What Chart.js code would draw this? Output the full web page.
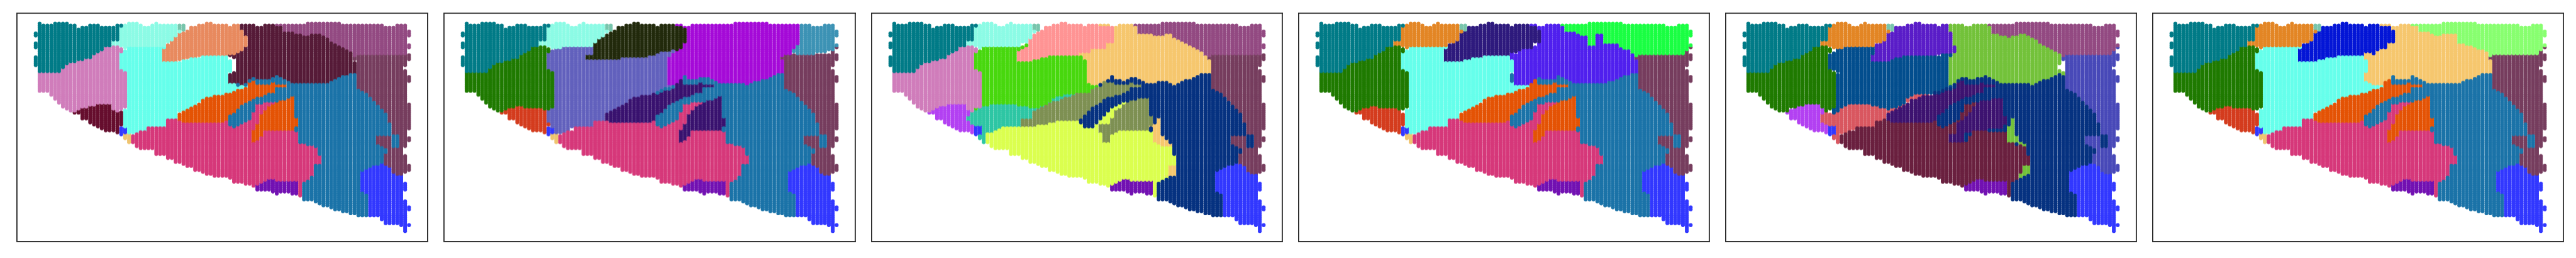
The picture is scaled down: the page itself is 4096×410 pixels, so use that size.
<!DOCTYPE html>
<html><head><meta charset="utf-8">
<script src="https://cdn.jsdelivr.net/npm/chart.js@4"></script>
<style>html,body{margin:0;padding:0;background:#fff;width:4096px;height:410px;overflow:hidden}
.p{position:absolute}</style></head><body>
<script>
// ---- spot lattice occupied by the tissue: first and last row of every column
const colTop=[null,0,1,1,1,0,0,0,0,1,1,3,2,2,1,1,1,2,2,2,2,1,1,1,0,0,0,1,2,2,1,0,1,1,1,1,1,1,1,2,2,2,1,1,0,0,1,1,1,1,2,1,1,1,1,1,1,2,2,1,1,1,1,1,1,1,1,1,1,1,0,0,0,0,0,0,0,0,0,1,1,1,1,1,1,1,1,1,1,1,2,2,2,1,1,1];
const colBottom=[null,34,34,34,36,38,40,42,43,44,45,45,48,48,50,51,52,53,54,54,54,55,56,58,60,60,62,63,63,63,63,66,66,66,68,68,70,70,71,72,72,74,74,75,76,76,77,77,77,77,78,80,80,80,81,81,82,84,84,84,84,85,86,85,85,85,86,86,87,89,89,89,90,91,92,92,93,94,94,95,95,96,96,97,97,97,97,97,97,99,101,101,101,101,102,105];
const firstColumnRuns=[[5,6],[10,12],[17,21]];
const lastColumnRuns=[[4,6],[11,12],[16,18],[27,29],[41,53],[58,59],[72,74],[93,94],[102,102]];
const column95Gaps=[[22,23],[63,66],[76,80],[85,89]];

// ---- cluster colours
const C={teal:'#017B87',aqua:'#8CFBE5',pink:'#D07DBB',cyan:'#66FFEB',salmon:'#E88A5F',plum:'#934A82',maroon:'#561B38',mauve:'#763D5E',blue:'#1B73A8',orange:'#E45305',magenta:'#D6387A',dred:'#660E2E',purple:'#7211B2',bblue:'#3238FF',gold:'#EFC46F',sage:'#78C5AC',green:'#1F7A00',red:'#D43C1E',peri:'#6261BD',olive:'#222A0C',violet:'#A50AD8',steel:'#3D93B5',indigo:'#39126F',lime:'#48D80E',rose:'#FF9494',amber:'#F6C76E',navy:'#063280',moss:'#7E9053',yellow:'#DBFF4F',sea:'#2EC6A4',lilac:'#B341F2',tang:'#E38625',deep:'#2E1A7D',vio2:'#5020EE',neon:'#1AFF43',ink:'#034E8E',vio3:'#5A1DC8',leaf:'#73C23A',wine:'#6A203F',coral:'#D95760',peri2:'#4849B8',royal:'#0416D6',mint:'#88FF70',indigo2:'#3D1370'};

// ---- cluster outlines (x: 14.19 per column, y: 124 + 10.32 per row)
const TEAL=[[-30,100],[316,100],[316,135],[303,135],[303,215],[273,215],[273,243],[258,243],[218,280],[203,300],[148,320],[108,340],[93,372],[8,372],[-30,360]];
const AQ=[[303,135],[316,135],[316,100],[553,100],[553,150],[538,165],[513,180],[513,215],[483,225],[468,240],[328,250],[318,243],[273,243],[273,215],[303,215]];
const SAGE=[[511,100],[541,100],[541,156],[511,156]];
const LEFTMID=[[-40,360],[8,372],[93,372],[108,340],[148,320],[203,300],[218,280],[258,243],[318,250],[328,255],[301,285],[301,355],[343,385],[330,400],[330,560],[313,575],[303,585],[288,575],[278,562],[228,562],[208,550],[173,565],[148,585],[-40,585]];
const RED=[[133,585],[173,565],[208,550],[228,562],[283,562],[313,590],[316,640],[328,640],[328,660],[300,660],[300,720],[133,720]];
const BSPOT=[[302,660],[330,668],[330,695],[316,715],[302,715]];
const GSPOT=[[316,695],[345,695],[345,750],[316,750]];
const CYAN=[[330,245],[468,240],[483,228],[470,250],[456,285],[456,322],[533,322],[558,310],[608,298],[698,298],[710,312],[723,345],[708,385],[708,425],[728,445],[770,448],[763,465],[698,490],[613,518],[578,555],[513,595],[513,628],[470,628],[470,668],[453,662],[403,662],[398,685],[343,700],[330,695],[316,655],[316,580],[330,565],[330,400],[343,385],[301,355],[301,285],[330,255]];
const UPPER46=[[553,100],[793,100],[805,138],[821,165],[821,215],[793,225],[793,255],[768,250],[738,280],[698,275],[698,298],[608,298],[558,310],[533,322],[456,322],[456,285],[470,250],[483,228],[513,215],[513,180],[538,165],[553,150]];
const AMBER6=[[766,100],[878,100],[878,135],[906,145],[906,175],[948,175],[968,200],[1003,175],[1045,185],[1045,235],[1088,240],[1148,275],[1158,295],[1186,295],[1173,320],[1173,385],[1133,388],[1098,410],[1043,445],[1018,435],[933,435],[883,400],[863,415],[823,420],[808,400],[788,420],[768,448],[728,445],[708,425],[708,385],[723,345],[710,312],[698,298],[698,275],[738,280],[768,250],[793,255],[793,225],[821,215],[821,165],[808,165],[805,140],[766,138]];
const MINT6=[[878,100],[1420,100],[1420,282],[1188,282],[1158,295],[1148,275],[1088,240],[1045,235],[1045,185],[1003,175],[968,200],[948,175],[906,175],[906,145],[878,135]];
const MAUVE=[[1173,320],[1173,465],[1198,480],[1233,530],[1243,545],[1283,600],[1283,645],[1298,650],[1298,705],[1243,705],[1243,750],[1270,770],[1283,790],[1273,810],[1273,850],[1283,870],[1298,870],[1298,900],[1318,915],[1343,905],[1420,905],[1420,282],[1188,282],[1158,295],[1155,320]];
const MAUVETOP=[[1335,260],[1362,260],[1362,240],[1420,240],[1420,282],[1335,282]];
const PATCH=[[1298,712],[1328,712],[1328,765],[1298,765]];
const BASE=[[690,385],[1420,385],[1420,1240],[690,1240]];
const MAGENTA=[[356,700],[398,685],[403,662],[453,662],[470,668],[470,628],[513,628],[513,635],[668,635],[698,625],[713,665],[738,660],[778,630],[808,545],[863,525],[878,540],[823,590],[808,650],[783,690],[783,745],[808,735],[833,690],[893,690],[960,680],[960,745],[1033,770],[1018,790],[1045,825],[1045,855],[1018,865],[1018,920],[988,945],[968,970],[968,1100],[308,1100],[308,800]];
const BAND1=[[513,630],[513,595],[553,575],[598,540],[613,518],[698,490],[763,465],[783,420],[793,420],[813,445],[868,432],[918,445],[918,460],[863,460],[876,480],[798,520],[748,560],[708,610],[693,640],[678,650],[558,645],[513,637]];
const BAND2=[[783,745],[783,690],[808,650],[823,590],[868,535],[948,500],[948,622],[960,606],[948,680],[893,690],[833,690],[813,735],[793,745]];
const BBLUE=[[1188,890],[1243,860],[1263,852],[1283,870],[1298,870],[1298,900],[1318,915],[1343,905],[1420,905],[1420,1240],[1203,1240],[1203,1130],[1216,1130],[1216,1018],[1188,1005]];
const PURPLE=[[808,965],[833,950],[853,930],[868,940],[964,940],[964,1022],[900,1030],[808,1000]];
// panel 1
const SALMON1=[[555,100],[753,100],[751,160],[765,165],[769,245],[748,265],[722,282],[696,280],[696,298],[597,298],[545,310],[519,322],[457,322],[457,280],[472,240],[498,210],[514,180],[555,160]];
const MAROON1=[[751,100],[876,100],[876,135],[904,145],[904,175],[945,175],[992,195],[1008,178],[1044,185],[1086,225],[1117,250],[1148,275],[1169,296],[1159,320],[1171,340],[1171,388],[1143,388],[1107,410],[1044,445],[1018,435],[930,435],[883,400],[841,422],[821,420],[789,405],[779,420],[763,445],[709,440],[709,385],[724,380],[724,300],[696,298],[696,280],[722,282],[748,265],[769,245],[765,165],[751,160]];
const PLUM1=[[876,100],[1420,100],[1420,282],[1188,282],[1169,296],[1148,275],[1117,250],[1086,225],[1044,185],[1008,178],[992,195],[945,175],[904,175],[904,145],[876,135]];
const DRED1=[[134,585],[176,565],[233,540],[269,540],[280,570],[316,590],[316,635],[332,640],[327,655],[301,660],[301,720],[134,720]];
// panel 2
const PERI2=[[329,250],[469,240],[469,285],[454,320],[539,320],[589,305],[689,298],[709,280],[769,265],[749,300],[739,320],[751,400],[739,440],[759,450],[699,490],[619,515],[579,560],[514,600],[514,630],[469,630],[469,670],[399,662],[394,685],[344,700],[329,695],[314,650],[301,580],[329,560],[329,400],[344,385],[301,355],[301,285],[329,265]];
const OLIVE2=[[554,140],[599,125],[639,100],[769,100],[769,140],[807,145],[821,170],[821,215],[799,220],[794,255],[769,265],[709,280],[689,298],[589,305],[539,320],[454,320],[454,285],[469,285],[469,235],[489,215],[514,185],[554,155]];
const VIOLET2=[[764,100],[1229,100],[1229,230],[1214,235],[1214,270],[1189,285],[1174,320],[1174,385],[1139,390],[1104,415],[1034,445],[1014,435],[924,435],[884,400],[854,420],[819,420],[809,400],[789,425],[774,450],[739,445],[751,400],[739,320],[749,300],[769,265],[794,255],[799,220],[821,215],[821,170],[807,145],[769,140]];
const STEEL2=[[1229,100],[1420,100],[1420,240],[1344,262],[1279,282],[1214,280],[1201,270],[1214,235],[1229,230]];
// panel 3
const VIOLA3=[[135,590],[175,560],[205,545],[270,540],[285,578],[300,585],[275,610],[305,640],[305,660],[300,705],[135,720]];
const LIME3=[[330,245],[470,240],[500,235],[485,255],[457,285],[457,320],[515,322],[585,298],[695,298],[710,315],[723,350],[710,385],[710,430],[725,445],[765,448],[720,490],[645,490],[585,510],[580,550],[525,565],[455,545],[405,540],[355,548],[330,575],[300,590],[305,570],[330,560],[330,400],[343,385],[303,355],[303,285],[330,265]];
const SEA3=[[330,560],[355,548],[405,540],[455,545],[525,565],[580,550],[585,510],[645,490],[685,490],[605,530],[525,580],[510,628],[470,630],[470,670],[400,662],[395,685],[345,705],[345,750],[315,750],[315,705],[300,690],[303,660],[275,620],[290,585]];
const BSPOT3=[[303,660],[330,660],[330,705],[303,705]];
const ROSE3=[[555,100],[765,100],[765,140],[820,140],[820,215],[795,225],[790,255],[745,250],[720,275],[695,275],[695,298],[585,298],[515,322],[457,320],[470,260],[500,235],[500,210],[525,180],[555,155]];
const AMBER3=[[765,100],[880,100],[880,125],[905,145],[905,175],[955,185],[975,198],[1010,175],[1050,210],[1085,240],[1125,265],[1155,295],[1187,292],[1173,320],[1173,385],[1135,388],[1105,410],[1035,445],[1015,432],[925,435],[885,400],[860,425],[825,420],[810,400],[790,420],[765,445],[725,445],[710,430],[710,385],[723,350],[710,315],[695,298],[695,275],[720,275],[745,250],[790,255],[795,225],[820,215],[820,140],[765,140]];
const PLUM3=[[880,100],[1420,100],[1420,282],[1185,282],[1155,295],[1125,265],[1085,240],[1050,210],[1010,175],[975,198],[955,185],[905,175],[905,145],[880,125]];
const YELLOW3=[[345,705],[395,685],[400,662],[470,670],[470,660],[505,665],[555,655],[615,635],[675,632],[685,625],[710,665],[735,665],[765,625],[785,600],[810,560],[870,525],[875,540],[825,570],[810,610],[795,640],[765,650],[765,690],[780,745],[795,745],[805,710],[830,690],[870,690],[950,680],[960,745],[1005,750],[1030,770],[1025,790],[1045,830],[1045,855],[1020,870],[1020,925],[985,945],[965,965],[965,1100],[285,1100],[285,800]];
const MOSS3A=[[470,660],[470,630],[510,628],[525,580],[605,530],[685,490],[765,448],[785,420],[830,445],[885,432],[920,445],[920,460],[870,460],[875,480],[785,520],[715,590],[685,640],[615,635],[555,655],[505,665]];
const MOSS3B=[[765,650],[795,640],[810,610],[825,570],[870,525],[945,505],[947,600],[960,610],[947,680],[870,690],[830,690],[805,710],[795,745],[780,745],[765,690]];
const SPUR3=[[947,655],[963,650],[975,618],[990,618],[990,705],[1005,730],[1030,755],[1030,770],[1005,770],[963,748],[963,680]];
const SPOT3=[[1020,865],[1045,865],[1045,915],[1010,935],[1005,920]];
// panel 4
const VIO4=[[768,100],[878,100],[878,125],[905,145],[905,175],[948,175],[968,195],[990,195],[990,240],[1018,240],[1018,185],[1048,185],[1048,232],[1088,232],[1118,265],[1143,265],[1155,295],[1186,282],[1173,320],[1173,385],[1143,388],[1108,410],[1033,445],[1013,435],[928,435],[883,400],[858,420],[823,420],[811,405],[793,420],[768,448],[723,445],[711,425],[711,385],[723,345],[711,320],[698,298],[698,275],[723,280],[753,250],[793,250],[798,225],[821,215],[821,165],[808,165],[808,140],[768,140]];
const NEON4=[[878,100],[1420,100],[1420,282],[1188,282],[1155,295],[1143,265],[1118,265],[1088,232],[1048,232],[1048,185],[1018,185],[1018,240],[990,240],[990,195],[968,195],[948,175],[905,175],[905,145],[878,125]];
// panel 5
const LILAC5=[[136,600],[176,565],[231,540],[273,540],[289,575],[289,600],[273,620],[301,650],[301,715],[136,720]];
const INK5=[[333,250],[471,240],[473,280],[456,285],[456,320],[531,322],[571,298],[701,298],[771,260],[761,280],[739,320],[751,400],[736,440],[766,448],[681,490],[631,490],[586,515],[581,555],[521,570],[436,540],[361,548],[346,575],[331,600],[316,600],[316,565],[333,560],[333,400],[346,385],[303,355],[303,285],[333,265]];
const CORAL5=[[276,620],[289,580],[331,600],[346,575],[361,548],[436,540],[521,570],[581,555],[586,515],[631,490],[681,490],[601,530],[526,590],[513,628],[473,635],[473,670],[401,662],[396,685],[346,705],[341,750],[316,750],[316,705],[301,660],[276,635]];
const BSPOT5=[[303,660],[331,660],[331,712],[303,712]];
const VIO5=[[556,140],[591,130],[596,100],[751,100],[751,165],[766,170],[766,245],[781,265],[751,280],[701,280],[701,298],[571,298],[531,322],[456,320],[456,285],[473,280],[473,240],[511,215],[516,180],[541,165]];
const LEAF5=[[751,100],[876,100],[876,125],[906,145],[906,175],[966,200],[1016,175],[1046,195],[1081,235],[1141,275],[1163,298],[1186,290],[1161,320],[1146,340],[1146,370],[1171,375],[1171,400],[1151,388],[1121,405],[1051,445],[1031,435],[931,435],[886,400],[826,420],[806,405],[781,420],[761,448],[739,445],[739,410],[751,400],[739,320],[761,280],[781,265],[766,245],[766,170],[751,165]];
const PLUM5=[[876,100],[1420,100],[1420,282],[1186,282],[1163,298],[1141,275],[1081,235],[1046,195],[1016,175],[966,200],[906,175],[906,145],[876,125]];
const BAND5=[[739,745],[739,705],[769,695],[769,650],[821,590],[846,530],[941,505],[946,600],[961,610],[946,680],[901,680],[806,695],[796,745]];
const SPUR5=[[963,655],[979,618],[991,618],[991,705],[1006,735],[1031,755],[1031,770],[986,750],[963,745],[963,690]];
const SPOT5=[[1021,865],[1049,865],[1049,905],[1020,925],[1003,935],[1003,920]];

// ---- which cluster takes which outline on each panel; a later entry wins where two overlap
const panel1=[['teal',TEAL],['blue',BASE],['magenta',MAGENTA],['orange',BAND1],['orange',BAND2],['pink',LEFTMID],['dred',DRED1],['aqua',AQ],['sage',SAGE],['cyan',CYAN],['salmon',SALMON1],['maroon',MAROON1],['plum',PLUM1],['mauve',MAUVE],['blue',PATCH],['bblue',BBLUE],['purple',PURPLE],['bblue',BSPOT],['gold',GSPOT]];
const panel2=[['teal',TEAL],['blue',BASE],['magenta',MAGENTA],['indigo',BAND1],['indigo',BAND2],['green',LEFTMID],['red',RED],['aqua',AQ],['sage',SAGE],['peri',PERI2],['olive',OLIVE2],['violet',VIOLET2],['steel',STEEL2],['mauve',MAUVE],['mauve',MAUVETOP],['blue',PATCH],['bblue',BBLUE],['purple',PURPLE],['bblue',BSPOT],['gold',GSPOT]];
const panel3=[['teal',TEAL],['navy',BASE],['yellow',YELLOW3],['moss',MOSS3A],['moss',MOSS3B],['pink',LEFTMID],['lilac',VIOLA3],['aqua',AQ],['sage',SAGE],['lime',LIME3],['sea',SEA3],['bblue',BSPOT3],['rose',ROSE3],['amber',AMBER3],['plum',PLUM3],['mauve',MAUVE],['navy',PATCH],['amber',SPUR3],['amber',SPOT3],['bblue',BBLUE],['purple',PURPLE]];
const panel4=[['teal',TEAL],['blue',BASE],['magenta',MAGENTA],['orange',BAND1],['orange',BAND2],['green',LEFTMID],['red',RED],['tang',AQ],['sage',SAGE],['cyan',CYAN],['deep',UPPER46],['vio2',VIO4],['neon',NEON4],['mauve',MAUVE],['mauve',MAUVETOP],['blue',PATCH],['bblue',BBLUE],['purple',PURPLE],['bblue',BSPOT],['gold',GSPOT]];
const panel5=[['teal',TEAL],['navy',BASE],['wine',MAGENTA],['indigo2',BAND1],['indigo2',BAND5],['green',LEFTMID],['lilac',LILAC5],['tang',AQ],['sage',SAGE],['ink',INK5],['coral',CORAL5],['bblue',BSPOT5],['vio3',VIO5],['leaf',LEAF5],['plum',PLUM5],['peri2',MAUVE],['peri2',MAUVETOP],['navy',PATCH],['leaf',SPUR5],['leaf',SPOT5],['bblue',BBLUE],['purple',PURPLE]];
const panel6=[['teal',TEAL],['blue',BASE],['magenta',MAGENTA],['orange',BAND1],['orange',BAND2],['green',LEFTMID],['red',RED],['tang',AQ],['sage',SAGE],['cyan',CYAN],['royal',UPPER46],['amber',AMBER6],['mint',MINT6],['mauve',MAUVE],['mauve',MAUVETOP],['blue',PATCH],['bblue',BBLUE],['purple',PURPLE],['bblue',BSPOT],['gold',GSPOT]];
const panels=[panel1,panel2,panel3,panel4,panel5,panel6];

function spots(){
  const out=[];
  firstColumnRuns.forEach(r=>{for(let k=r[0];k<=r[1];k++)out.push([0,k]);});
  for(let c=1;c<=95;c++){
    for(let k=colTop[c];k<=colBottom[c];k++){
      if(c===95&&column95Gaps.some(g=>k>=g[0]&&k<=g[1]))continue;
      out.push([c,k]);
    }
  }
  lastColumnRuns.forEach(r=>{for(let k=r[0];k<=r[1];k++)out.push([96,k]);});
  return out;
}
function inside(poly,x,y){
  let hit=false;
  for(let i=0,j=poly.length-1;i<poly.length;j=i++){
    const a=poly[i],b=poly[j];
    if((a[1]>y)!==(b[1]>y)&&x<(b[0]-a[0])*(y-a[1])/(b[1]-a[1])+a[0])hit=!hit;
  }
  return hit;
}
const S=4096/4500,SY=410/450,pad=3;
const allSpots=spots();
panels.forEach((regions,i)=>{
  const groups={};
  regions.forEach(r=>{groups[r[0]]=groups[r[0]]||[];});
  allSpots.forEach(([c,k])=>{
    const X=14.19*c,Y=124+10.32*k;
    let name=null;
    regions.forEach(r=>{if(inside(r[1],X,Y))name=r[0];});
    if(name)groups[name].push({x:c,y:k});
  });
  const L=(30+746.1*i)*S,T=23*SY,W=717.5*S,H=397*SY;
  const d=document.createElement('div');d.className='p';
  d.style.cssText=`left:${L-pad}px;top:${T-pad}px;width:${W+2*pad}px;height:${H+2*pad}px`;
  const cv=document.createElement('canvas');d.appendChild(cv);document.body.appendChild(d);
  const edge={display:true,ticks:{display:false},grid:{display:false,drawTicks:false},border:{display:true,color:'#262626',width:1.8},afterFit(s){if(s.isHorizontal())s.height=0;else s.width=0;}};
  const xr={type:'linear',min:-4.8,max:100.8};const yr={type:'linear',min:-5.25,max:110.25,reverse:true};
  new Chart(cv,{type:'scatter',
    data:{datasets:Object.keys(groups).map(n=>({label:n,data:groups[n],backgroundColor:C[n],borderWidth:0,pointRadius:3.1,pointHoverRadius:3.1}))},
    options:{responsive:true,maintainAspectRatio:false,animation:false,events:[],
      layout:{padding:pad},
      plugins:{legend:{display:false},tooltip:{enabled:false}},
      scales:{
        x:{...edge,...xr,position:'bottom'},
        y:{...edge,...yr,position:'left'},
        x2:{...edge,...xr,position:'top'},
        y2:{...edge,...yr,position:'right'}
      }}});
});
</script></body></html>
